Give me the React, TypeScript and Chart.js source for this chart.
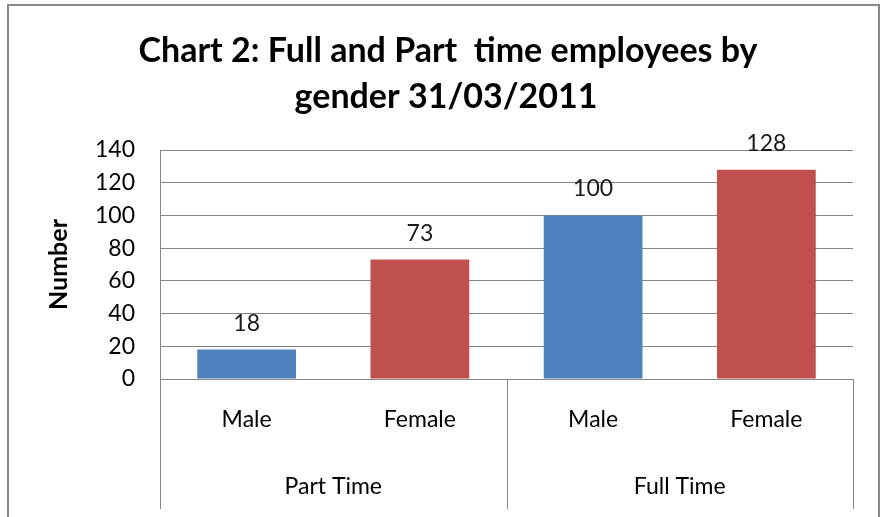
import React, { useEffect, useRef } from "react";
import { Chart, registerables } from "chart.js";

Chart.register(...registerables);

const categories = ["Male", "Female", "Male", "Female"];
const groups = ["Part Time", "Full Time"];
const groupSizes = [2, 2];
const values = [18, 73, 100, 128];
const barColors = ["#4F81BD", "#C0504D", "#4F81BD", "#C0504D"];
const yMin = 0;
const yMax = 140;
const yStep = 20;
const titleLines = ["Chart 2: Full and Part  time employees by", "gender 31/03/2011"];
const yAxisTitle = "Number";

const FONT = "Lato, 'Open Sans', sans-serif";

const decorPlugin = {
  id: "decor",
  beforeDraw(chart: any) {
    const ctx = chart.ctx;
    ctx.save();
    ctx.fillStyle = "#ffffff";
    ctx.fillRect(0, 0, chart.width, chart.height);
    ctx.strokeStyle = "#8a8a8a";
    ctx.lineWidth = 2;
    ctx.strokeRect(8, 5, 871, 540);
    ctx.restore();
  },
  afterDraw(chart: any) {
    const ctx = chart.ctx;
    const x = chart.scales.x;
    const y = chart.scales.y;
    ctx.save();
    // title
    ctx.fillStyle = "#000000";
    ctx.font = `bold 34px ${FONT}`;
    ctx.textAlign = "center";
    ctx.textBaseline = "alphabetic";
    ctx.fillText(titleLines[0], 448, 62);
    ctx.fillText(titleLines[1], 446, 108);

    // data labels
    const meta = chart.getDatasetMeta(0);
    ctx.font = `23px ${FONT}`;
    ctx.fillStyle = "#1a1a1a";
    ctx.textBaseline = "alphabetic";
    meta.data.forEach((bar: any, i: number) => {
      ctx.fillText(String(values[i]), bar.x, bar.y - 19);
    });

    // category group separators and labels
    const half = (x.getPixelForValue(1) - x.getPixelForValue(0)) / 2;
    const yTop = y.bottom;
    const yBot = 509;
    ctx.strokeStyle = "#868686";
    ctx.lineWidth = 1;
    let start = 0;
    const bounds: number[] = [x.left];
    groupSizes.forEach((n) => {
      const end = start + n - 1;
      bounds.push(x.getPixelForValue(end) + half);
      start += n;
    });
    bounds.forEach((bx) => {
      const px = Math.round(bx) + 0.5;
      ctx.beginPath();
      ctx.moveTo(px, yTop);
      ctx.lineTo(px, yBot);
      ctx.stroke();
    });
    ctx.font = `23px ${FONT}`;
    ctx.fillStyle = "#000000";
    ctx.textBaseline = "middle";
    groups.forEach((g, i) => {
      ctx.fillText(g, (bounds[i] + bounds[i + 1]) / 2, 487);
    });
    ctx.restore();
  },
};

export default function App() {
  const ref = useRef<HTMLCanvasElement>(null);
  useEffect(() => {
    if (!ref.current) return;
    const chart = new Chart(ref.current, {
      type: "bar",
      data: {
        labels: categories,
        datasets: [
          {
            data: values,
            backgroundColor: barColors,
            borderWidth: 0,
            barPercentage: 0.57,
            categoryPercentage: 1,
          },
        ],
      },
      options: {
        responsive: false,
        animation: false,
        devicePixelRatio: 1,
        layout: { padding: { left: 0, top: 150, right: 30, bottom: 8 } },
        plugins: {
          legend: { display: false },
          title: { display: false },
          tooltip: { enabled: false },
        },
        scales: {
          x: {
            offset: true,
            grid: { display: false, drawTicks: false },
            border: { display: false },
            ticks: {
              color: "#000000",
              font: { family: FONT, size: 23 },
              padding: 27,
              maxRotation: 0,
            },
            afterFit: (s: any) => {
              s.height = 130;
            },
          },
          y: {
            min: yMin,
            max: yMax,
            ticks: {
              stepSize: yStep,
              color: "#000000",
              font: { family: FONT, size: 23 },
              padding: 25,
            },
            grid: { color: "#868686", drawTicks: false, lineWidth: 1 },
            border: { display: true, color: "#868686" },
            title: {
              display: true,
              text: yAxisTitle,
              color: "#000000",
              font: { family: FONT, size: 25, weight: "bold" },
              padding: { top: 44, bottom: 0 },
            },
            afterFit: (s: any) => {
              s.width = 160;
            },
          },
        },
      },
      plugins: [decorPlugin],
    });
    return () => chart.destroy();
  }, []);
  return (
    <div style={{ position: "absolute", left: 0, top: 0, width: 883, height: 517 }}>
      <canvas ref={ref} width={883} height={517} style={{ display: "block" }} />
    </div>
  );
}
